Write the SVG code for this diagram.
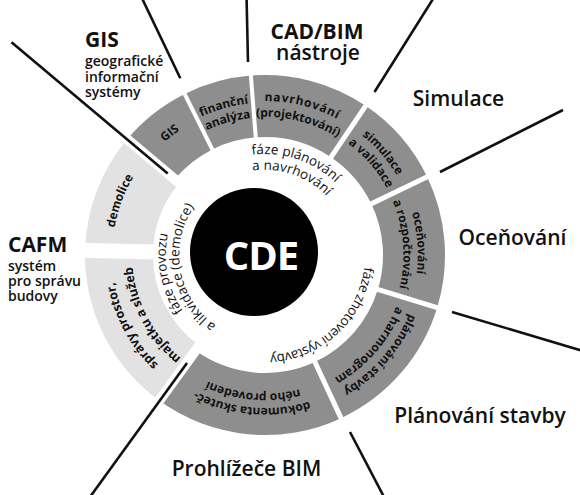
<svg xmlns="http://www.w3.org/2000/svg" width="580" height="495" viewBox="0 0 580 495">
<style>
text{font-family:"Open Sans","Liberation Sans",sans-serif;fill:#111}
.dk{fill:#8e8e8e}
.lt{fill:#e2e2e2}
.gap{stroke:#fff;fill:none}
.conn{stroke:#111;stroke-width:2.6;fill:none}
.st{font-weight:700;font-size:12px}
.stl{font-weight:700;font-size:12.5px}
.ph{font-weight:400;font-size:13.5px}
.big{font-weight:600;font-size:21px}
.bigb{font-weight:700;font-size:21px}
.sub{font-weight:600;font-size:14px}
</style>
<defs>
<path id="pGIS" d="M146.01 347.97 A151 151 0 0 1 383.99 162.03"/>
<path id="pFin1" d="M116.61 296.15 A154 154 0 0 1 413.39 213.85"/>
<path id="pFin2" d="M131.06 292.14 A139 139 0 0 1 398.94 217.86"/>
<path id="pNav1" d="M115.57 217.75 A154 154 0 0 1 414.43 292.25"/>
<path id="pNav2" d="M130.13 221.38 A139 139 0 0 1 399.87 288.62"/>
<path id="pSim1" d="M163.96 138.78 A154 154 0 0 1 366.04 371.22"/>
<path id="pSim2" d="M173.80 150.10 A139 139 0 0 1 356.20 359.90"/>
<path id="pOce1" d="M252.91 101.48 A154 154 0 0 1 277.09 408.52"/>
<path id="pOce2" d="M254.09 116.43 A139 139 0 0 1 275.91 393.57"/>
<path id="pPla1" d="M367.35 137.27 A156 156 0 0 1 162.65 372.73"/>
<path id="pPla2" d="M357.51 148.59 A141 141 0 0 1 172.49 361.41"/>
<path id="pDok1" d="M418.41 268.43 A154 154 0 0 1 111.59 241.57"/>
<path id="pDok2" d="M403.47 267.12 A139 139 0 0 1 126.53 242.88"/>
<path id="pSpr1" d="M337.30 390.97 A154 154 0 0 1 192.70 119.03"/>
<path id="pSpr2" d="M327.91 373.31 A134 134 0 0 1 202.09 136.69"/>
<path id="pDem" d="M211.42 398.32 A153 153 0 0 1 318.58 111.68"/>
<path id="pPh1a" d="M169.22 222.95 A101 101 0 0 1 360.78 287.05"/>
<path id="pPh1b" d="M183.69 227.00 A86 86 0 0 1 346.31 283.00"/>
<path id="pPh2" d="M338.14 186.80 A100 100 0 0 1 191.86 323.20"/>
<path id="pPh3a" d="M284.08 353.16 A100 100 0 0 1 245.92 156.84"/>
<path id="pPh3b" d="M280.67 339.56 A86 86 0 0 1 249.33 170.44"/>
</defs>

<g id="seg-gis">
<path class="dk" d="M127.12 139.30 A180 180 0 0 1 184.68 93.92 L212.35 149.40 A118 118 0 0 0 174.61 179.15 Z"/>
<text class="st"><textPath href="#pGIS" startOffset="50%" text-anchor="middle">GIS</textPath></text>
</g>
<g id="seg-financni">
<path class="dk" d="M184.68 93.92 A180 180 0 0 1 250.87 75.56 L255.74 137.37 A118 118 0 0 0 212.35 149.40 Z"/>
<text class="st"><textPath href="#pFin1" startOffset="50%" text-anchor="middle">finanční</textPath></text>
<text class="st"><textPath href="#pFin2" startOffset="50%" text-anchor="middle">analýza</textPath></text>
</g>
<g id="seg-navrhovani">
<path class="dk" d="M250.87 75.56 A180 180 0 0 1 365.66 105.78 L330.99 157.18 A118 118 0 0 0 255.74 137.37 Z"/>
<text class="st" letter-spacing="0.8"><textPath href="#pNav1" startOffset="50%" text-anchor="middle">navrhování</textPath></text>
<text class="st"><textPath href="#pNav2" startOffset="50%" text-anchor="middle">(projektování)</textPath></text>
</g>
<g id="seg-simulace">
<path class="dk" d="M365.66 105.78 A180 180 0 0 1 427.20 176.93 L371.33 203.82 A118 118 0 0 0 330.99 157.18 Z"/>
<text class="st"><textPath href="#pSim1" startOffset="50%" text-anchor="middle">simulace</textPath></text>
<text class="st"><textPath href="#pSim2" startOffset="50%" text-anchor="middle">a validace</textPath></text>
</g>
<g id="seg-ocenovani">
<path class="dk" d="M427.20 176.93 A180 180 0 0 1 437.13 307.63 L377.84 289.50 A118 118 0 0 0 371.33 203.82 Z"/>
<text class="st"><textPath href="#pOce1" startOffset="50%" text-anchor="middle">oceňování</textPath></text>
<text class="st"><textPath href="#pOce2" startOffset="50%" text-anchor="middle">a rozpočtování</textPath></text>
</g>
<g id="seg-planovani">
<path class="dk" d="M437.13 307.63 A180 180 0 0 1 341.07 418.13 L314.87 361.94 A118 118 0 0 0 377.84 289.50 Z"/>
<text class="st"><textPath href="#pPla1" startOffset="50%" text-anchor="middle">plánování stavby</textPath></text>
<text class="st"><textPath href="#pPla2" startOffset="50%" text-anchor="middle">a harmonogram</textPath></text>
</g>
<g id="seg-dokumentace">
<path class="dk" d="M341.07 418.13 A180 180 0 0 1 159.20 400.62 L195.64 350.46 A118 118 0 0 0 314.87 361.94 Z"/>
<text class="st"><textPath href="#pDok1" startOffset="50%" text-anchor="middle">dokumenta skuteč-</textPath></text>
<text class="st"><textPath href="#pDok2" startOffset="50%" text-anchor="middle">ného provedení</textPath></text>
</g>
<g id="seg-spravy">
<path class="lt" d="M159.20 400.62 A180 180 0 0 1 85.05 250.28 L153.03 252.07 A112 112 0 0 0 199.17 345.61 Z"/>
<text class="stl"><textPath href="#pSpr1" startOffset="50%" text-anchor="middle">správy prostor,</textPath></text>
<text class="stl"><textPath href="#pSpr2" startOffset="50%" text-anchor="middle">majetku a služeb</textPath></text>
</g>
<g id="seg-demolice">
<path class="lt" d="M85.05 250.28 A180 180 0 0 1 127.12 139.30 L179.21 183.01 A112 112 0 0 0 153.03 252.07 Z"/>
<text class="st"><textPath href="#pDem" startOffset="50%" text-anchor="middle">demolice</textPath></text>
</g>

<g id="gaps">
<line class="gap" stroke-width="4" x1="215.92" y1="156.56" x2="182.01" y2="88.55"/>
<line class="gap" stroke-width="4" x1="256.36" y1="145.34" x2="250.40" y2="69.58"/>
<line class="gap" stroke-width="5" x1="326.51" y1="163.81" x2="369.01" y2="100.81"/>
<line class="gap" stroke-width="5" x1="364.12" y1="207.29" x2="432.60" y2="174.33"/>
<line class="gap" stroke-width="5" x1="370.19" y1="287.16" x2="442.87" y2="309.39"/>
<line class="gap" stroke-width="5" x1="311.49" y1="354.69" x2="343.60" y2="423.57"/>
<line class="gap" stroke-width="10" x1="200.34" y1="343.99" x2="155.67" y2="405.47"/>
<line class="gap" stroke-width="15" x1="155.04" y1="252.12" x2="79.06" y2="250.13"/>
<line class="gap" stroke-width="10" x1="180.74" y1="184.29" x2="122.52" y2="135.44"/>
</g>

<g id="phase-planovani">
<text class="ph" font-size="14"><textPath href="#pPh1a" startOffset="50%" text-anchor="middle">fáze plánování</textPath></text>
<text class="ph" font-size="14"><textPath href="#pPh1b" startOffset="50%" text-anchor="middle">a navrhování</textPath></text>
</g>
<g id="phase-zhotoveni">
<text class="ph" letter-spacing="-0.4"><textPath href="#pPh2" startOffset="50%" text-anchor="middle">fáze zhotovení výstavby</textPath></text>
</g>
<g id="phase-provoz">
<text class="ph" font-size="14"><textPath href="#pPh3a" startOffset="50%" text-anchor="middle">fáze provozu</textPath></text>
<text class="ph" font-size="13"><textPath href="#pPh3b" startOffset="50%" text-anchor="middle">a likvidace (demolice)</textPath></text>
</g>

<g id="cde">
<circle cx="254" cy="252" r="64" fill="#000"/>
<text x="261" y="270" text-anchor="middle" font-size="40" font-weight="700" letter-spacing="-1" style="fill:#fff">CDE</text>
</g>

<g id="connectors">
<line class="conn" x1="167.7" y1="173.4" x2="11.5" y2="42.2"/>
<line class="conn" x1="180.3" y1="78.3" x2="139.7" y2="-6.5"/>
<line class="conn" x1="248" y1="62" x2="246.5" y2="-5"/>
<line class="conn" x1="374.5" y1="92" x2="435.5" y2="-5"/>
<line class="conn" x1="440" y1="172" x2="563" y2="110"/>
<line class="conn" x1="452" y1="312" x2="590" y2="353"/>
<line class="conn" x1="350" y1="432" x2="385.6" y2="500"/>
<line class="conn" x1="187" y1="363" x2="90" y2="497"/>
</g>

<g id="label-gis">
<text class="bigb" x="85" y="47">GIS</text>
<text class="sub" x="85" y="66">geografické</text>
<text class="sub" x="85" y="81.5">informační</text>
<text class="sub" x="85" y="97">systémy</text>
</g>
<g id="label-cad">
<text class="bigb" font-size="20" x="317" y="39" text-anchor="middle">CAD/BIM</text>
<text class="big" font-size="20" x="318" y="59.5" text-anchor="middle">nástroje</text>
</g>
<g id="label-simulace">
<text class="big" x="458.5" y="106" text-anchor="middle">Simulace</text>
</g>
<g id="label-ocenovani">
<text class="big" x="512.5" y="245" text-anchor="middle">Oceňování</text>
</g>
<g id="label-planovani">
<text class="big" x="480" y="423" text-anchor="middle">Plánování stavby</text>
</g>
<g id="label-prohlizece">
<text class="big" x="246.5" y="476" text-anchor="middle">Prohlížeče BIM</text>
</g>
<g id="label-cafm">
<text class="bigb" x="8" y="252">CAFM</text>
<text class="sub" x="8" y="271">systém</text>
<text class="sub" x="8" y="286">pro správu</text>
<text class="sub" x="8" y="301">budovy</text>
</g>
</svg>
